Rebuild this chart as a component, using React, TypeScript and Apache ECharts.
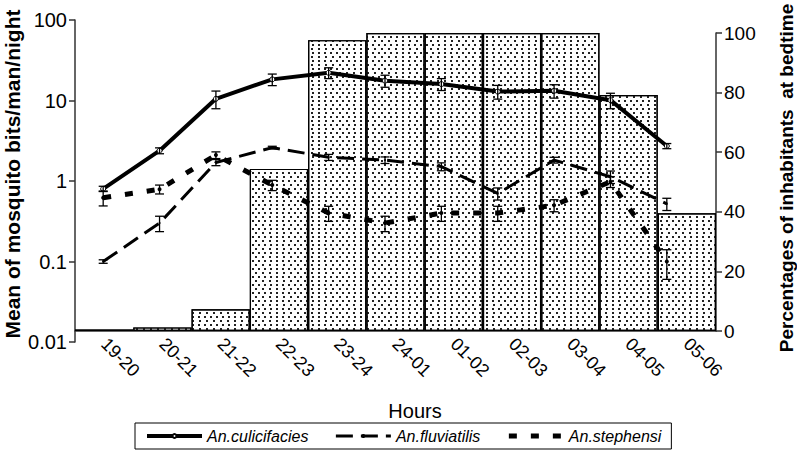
import React, { useEffect, useRef } from 'react';
import * as echarts from 'echarts';

const hours = ['19-20', '20-21', '21-22', '22-23', '23-24', '24-01', '01-02', '02-03', '03-04', '04-05', '05-06'];
const inhabitantsPct = [0.5, 1.2, 7.3, 54.4, 97.6, 100, 100, 100, 100, 79.2, 39.5];
const culicifacies = [0.8, 2.38, 10.5, 18.3, 22.1, 17.6, 16.0, 12.9, 13.2, 10.1, 2.72];
const culicifaciesErr = [0.06, 0.2, 2.6, 3.0, 3.4, 3.0, 2.7, 2.5, 2.5, 2.2, 0.2];
const fluviatilis = [0.1, 0.3, 1.7, 2.6, 1.97, 1.82, 1.51, 0.7, 1.82, 1.13, 0.52];
const fluviatilisErr = [0.005, 0.065, 0.15, 0.1, 0.17, 0.17, 0.17, 0.12, 0.15, 0.2, 0.09];
const stephensi = [0.62, 0.79, 2.1, 0.89, 0.4, 0.3, 0.4, 0.4, 0.5, 0.98, 0.1];
const stephensiErr = [0.13, 0.1, 0.2, 0.13, 0.085, 0.065, 0.085, 0.085, 0.085, 0.15, 0.04];

const FONT = '"Liberation Sans", Arial, Helvetica, sans-serif';
const AX = '#333';

function errSeries(name: string, vals: number[], errs: number[]) {
  return {
    type: 'custom',
    name: name + ' err',
    xAxisIndex: 0,
    yAxisIndex: 0,
    z: 5,
    silent: true,
    data: vals.map((v, i) => [i, v - errs[i], v + errs[i]]),
    renderItem: (params: any, api: any) => {
      const x = api.value(0);
      const lo = api.coord([x, api.value(1)]);
      const hi = api.coord([x, api.value(2)]);
      const hw = 4.5;
      const st = { stroke: '#000', lineWidth: 1.3, fill: 'none' };
      return {
        type: 'group',
        children: [
          { type: 'line', shape: { x1: lo[0], y1: lo[1], x2: hi[0], y2: hi[1] }, style: st },
          { type: 'line', shape: { x1: lo[0] - hw, y1: lo[1], x2: lo[0] + hw, y2: lo[1] }, style: st },
          { type: 'line', shape: { x1: hi[0] - hw, y1: hi[1], x2: hi[0] + hw, y2: hi[1] }, style: st },
        ],
      };
    },
  };
}

export default function App() {
  const ref = useRef<HTMLDivElement>(null);
  useEffect(() => {
    const chart = echarts.init(ref.current!, null, { renderer: 'svg' });
    const option: any = {
      animation: false,
      backgroundColor: '#fff',
      textStyle: { fontFamily: FONT },
      grid: [
        { left: 75, top: 20, width: 620, height: 322 },
        { left: 75, top: 33, width: 641, height: 298 },
      ],
      legend: {
        data: [
          { name: 'An.culicifacies', lineStyle: { width: 4 } },
          { name: 'An.fluviatilis', lineStyle: { width: 3 } },
          { name: 'An.stephensi', lineStyle: { width: 5 } },
        ],
        left: 135,
        top: 423,
        itemWidth: 55,
        itemHeight: 5,
        itemGap: 26,
        borderColor: '#000',
        borderWidth: 1,
        borderRadius: 0,
        padding: [5, 10],
        textStyle: { fontStyle: 'italic', fontSize: 16, color: '#000', fontFamily: FONT },
      },
      xAxis: [
        { gridIndex: 0, type: 'category', data: hours, show: false },
        {
          gridIndex: 1,
          type: 'category',
          data: hours,
          axisLine: { lineStyle: { color: AX, width: 1.5 } },
          axisTick: { length: 6, lineStyle: { color: AX, width: 1.5 } },
          axisLabel: { rotate: -45, fontSize: 18, color: '#000', margin: 10, interval: 0, fontFamily: FONT },
        },
      ],
      yAxis: [
        {
          gridIndex: 0,
          type: 'log',
          logBase: 10,
          min: 0.01,
          max: 100,
          position: 'left',
          axisLine: { show: true, lineStyle: { color: AX, width: 1.5 } },
          axisTick: { show: true, length: 6, lineStyle: { color: AX, width: 1.5 } },
          splitLine: { show: false },
          axisLabel: {
            fontSize: 20,
            color: '#000',
            margin: 8,
            fontFamily: FONT,
            formatter: (v: number) => String(+v.toPrecision(3)),
          },
        },
        {
          gridIndex: 1,
          type: 'value',
          min: 0,
          max: 100,
          interval: 20,
          position: 'right',
          axisLine: { show: true, lineStyle: { color: AX, width: 1.5 } },
          axisTick: { show: true, length: 6, lineStyle: { color: AX, width: 1.5 } },
          splitLine: { show: false },
          axisLabel: { fontSize: 19, color: '#000', margin: 8, fontFamily: FONT },
        },
      ],
      series: [
        {
          type: 'bar',
          name: 'Inhabitants',
          xAxisIndex: 1,
          yAxisIndex: 1,
          barCategoryGap: '0%',
          data: inhabitantsPct,
          z: 1,
          itemStyle: {
            color: '#fff',
            borderColor: '#000',
            borderWidth: 1.2,
            decal: {
              symbol: 'rect',
              symbolSize: 1,
              color: '#222',
              backgroundColor: '#fff',
              dashArrayX: [[1.2, 3.8], [0, 2.5, 1.2, 1.3]],
              dashArrayY: [1.2, 1.6],
              rotation: 0,
            },
          },
        },
        {
          type: 'line',
          name: 'An.fluviatilis',
          xAxisIndex: 0,
          yAxisIndex: 0,
          data: fluviatilis,
          z: 3,
          symbol: 'circle',
          symbolSize: 2,
          itemStyle: { color: '#000' },
          lineStyle: { color: '#000', width: 3, type: [17, 8] },
        },
        {
          type: 'line',
          name: 'An.stephensi',
          xAxisIndex: 0,
          yAxisIndex: 0,
          data: stephensi,
          z: 3,
          symbol: 'circle',
          symbolSize: 4,
          itemStyle: { color: '#000' },
          lineStyle: { color: '#000', width: 5, type: [8, 14] },
        },
        {
          type: 'line',
          name: 'An.culicifacies',
          xAxisIndex: 0,
          yAxisIndex: 0,
          data: culicifacies,
          z: 4,
          symbol: 'circle',
          symbolSize: 5,
          itemStyle: { color: '#fff', borderColor: '#000', borderWidth: 1 },
          lineStyle: { color: '#000', width: 4 },
        },
        errSeries('An.culicifacies', culicifacies, culicifaciesErr),
        errSeries('An.fluviatilis', fluviatilis, fluviatilisErr),
        errSeries('An.stephensi', stephensi, stephensiErr),
      ],
      graphic: [
        {
          type: 'text',
          x: 12,
          y: 174,
          rotation: Math.PI / 2,
          style: {
            text: 'Mean of mosquito bits/man/night',
            font: 'bold 21px ' + FONT,
            fill: '#000',
            textAlign: 'center',
            textVerticalAlign: 'middle',
          },
        },
        {
          type: 'text',
          x: 786,
          y: 178,
          rotation: Math.PI / 2,
          style: {
            text: 'Percentages of inhabitants  at bedtime',
            font: 'bold 19px ' + FONT,
            fill: '#000',
            textAlign: 'center',
            textVerticalAlign: 'middle',
          },
        },
        {
          type: 'text',
          x: 415,
          y: 411,
          style: {
            text: 'Hours',
            font: '20px ' + FONT,
            fill: '#000',
            textAlign: 'center',
            textVerticalAlign: 'middle',
          },
        },
      ],
    };
    chart.setOption(option);
    return () => chart.dispose();
  }, []);
  return <div ref={ref} style={{ position: 'absolute', left: 0, top: 0, width: 797, height: 451 }} />;
}
